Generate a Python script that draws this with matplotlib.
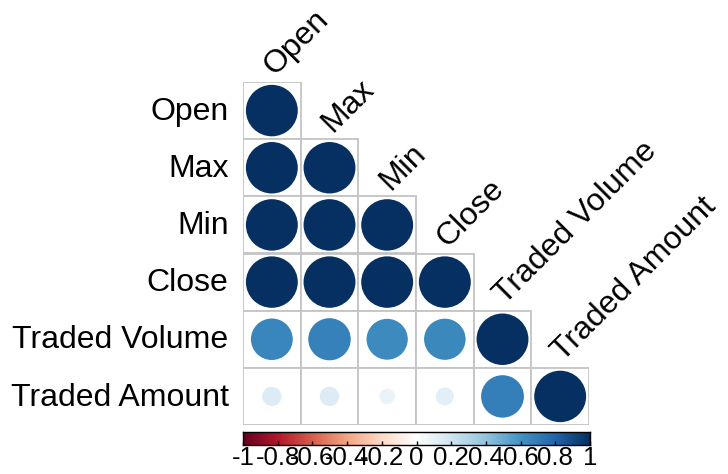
import numpy as np
import matplotlib
matplotlib.use('Agg')
import matplotlib.pyplot as plt
from matplotlib.patches import Circle, Rectangle
from matplotlib.colors import LinearSegmentedColormap

plt.rcParams['font.family'] = ['Liberation Sans', 'DejaVu Sans']
plt.rcParams['axes.unicode_minus'] = False

labels = ['Open', 'Max', 'Min', 'Close', 'Traded Volume', 'Traded Amount']

# lower triangle of the correlation matrix (row by row)
corr_rows = [
    [1.0],
    [1.0, 1.0],
    [1.0, 1.0, 1.0],
    [1.0, 1.0, 1.0, 1.0],
    [0.65, 0.67, 0.63, 0.64, 1.0],
    [0.14, 0.14, 0.09, 0.12, 0.68, 1.0],
]

cbar_ticks = [-1, -0.8, -0.6, -0.4, -0.2, 0, 0.2, 0.4, 0.6, 0.8, 1]
cbar_ticklabels = ['-1', '-0.8', '-0.6', '-0.4', '-0.2', '0', '0.2', '0.4', '0.6', '0.8', '1']

rdbu = ["#67001F", "#B2182B", "#D6604D", "#F4A582", "#FDDBC7", "#FFFFFF",
        "#D1E5F0", "#92C5DE", "#4393C3", "#2166AC", "#053061"]
cmap = LinearSegmentedColormap.from_list('corr', rdbu, N=200)

W, H = 728, 474
fig = plt.figure(figsize=(W / 100, H / 100), dpi=100)
ax = fig.add_axes([243 / W, (H - 425) / H, 346 / W, 343 / H])
ax.set_xlim(0, 6)
ax.set_ylim(6, 0)
ax.axis('off')

for i, row in enumerate(corr_rows):
    for j, r in enumerate(row):
        ax.add_patch(Rectangle((j, i), 1, 1, facecolor='white', edgecolor='#c4c4c4',
                               lw=1.3, zorder=1))
        ax.add_patch(Circle((j + 0.5, i + 0.5), 0.45 * np.sqrt(abs(r)),
                            facecolor=cmap((r + 1) / 2), edgecolor='none', zorder=2))

for i, lab in enumerate(labels):
    ax.text(-0.25, i + 0.52, lab, ha='right', va='center', fontsize=23, color='black')
    ax.text(i + 0.45, i - 0.2, lab, ha='left', va='center', rotation=45,
            rotation_mode='anchor', fontsize=23, color='black')

cax = fig.add_axes([243 / W, (H - 445) / H, 347 / W, 13 / H])
grad = np.linspace(-1, 1, 400).reshape(1, -1)
cax.imshow(grad, cmap=cmap, vmin=-1, vmax=1, aspect='auto', extent=(-1, 1, 0, 1))
cax.set_xlim(-1, 1)
cax.set_yticks([])
cax.set_xticks(cbar_ticks)
cax.set_xticklabels(cbar_ticklabels, fontsize=18.5)
cax.tick_params(axis='x', direction='in', length=3, pad=1, width=1)
for s in cax.spines.values():
    s.set_linewidth(1)

fig.savefig('out.png', dpi=100)
